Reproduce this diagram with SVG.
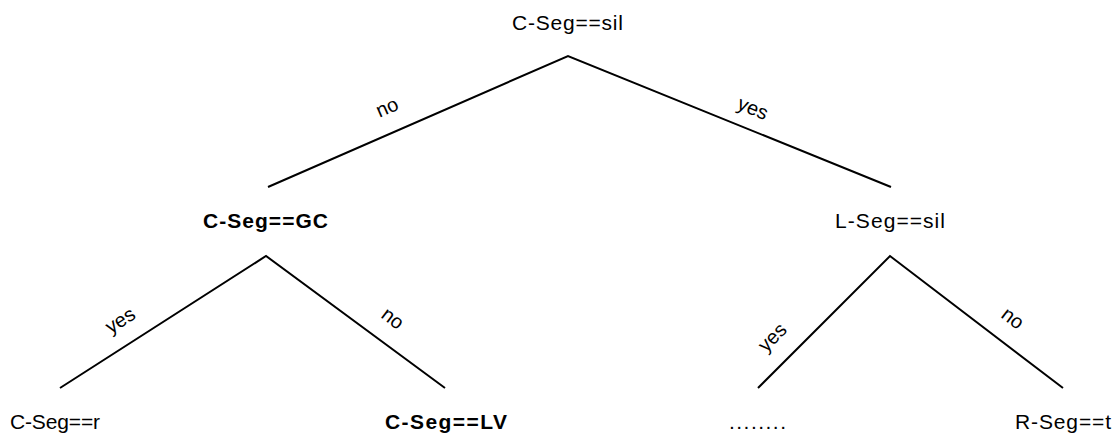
<svg xmlns="http://www.w3.org/2000/svg" width="1120" height="437" viewBox="0 0 1120 437">
<style>
.t{font-family:"Liberation Sans",Arial,sans-serif;font-size:21px;fill:#000}
.b{font-weight:bold}
.l{font-family:"Liberation Sans",Arial,sans-serif;font-size:20px;fill:#000;text-anchor:middle;dominant-baseline:central}
.e{stroke:#000;stroke-width:2;fill:none}
</style>
<rect width="1120" height="437" fill="#fff"/>
<g id="edges">
<polyline class="e" points="268,187 568,56 891,187"/>
<polyline class="e" points="60,388 266,256 445,388"/>
<polyline class="e" points="758,388 890,256 1063,388"/>
<text class="l" transform="translate(387,107) rotate(-23.6)">no</text>
<text class="l" transform="translate(753,108) rotate(22.5)">yes</text>
<text class="l" transform="translate(120,320) rotate(-32.6)">yes</text>
<text class="l" transform="translate(393,318) rotate(36.4)">no</text>
<text class="l" transform="translate(772,337) rotate(-45)">yes</text>
<text class="l" transform="translate(1013,318) rotate(37.3)">no</text>
</g>
<g id="n1"><text class="t" x="512" y="30" textLength="111" lengthAdjust="spacing">C-Seg==sil</text></g>
<g id="n2"><text class="t b" x="203" y="228" textLength="125" lengthAdjust="spacing">C-Seg==GC</text></g>
<g id="n3"><text class="t" x="835" y="228" textLength="110" lengthAdjust="spacing">L-Seg==sil</text></g>
<g id="n4"><text class="t" x="10" y="429" textLength="90" lengthAdjust="spacing">C-Seg==r</text></g>
<g id="n5"><text class="t b" x="385" y="429" textLength="122" lengthAdjust="spacing">C-Seg==LV</text></g>
<g id="n6"><text class="t" x="729" y="429" textLength="57" lengthAdjust="spacing">........</text></g>
<g id="n7"><text class="t" x="1015" y="429" textLength="96" lengthAdjust="spacing">R-Seg==t</text></g>
</svg>
